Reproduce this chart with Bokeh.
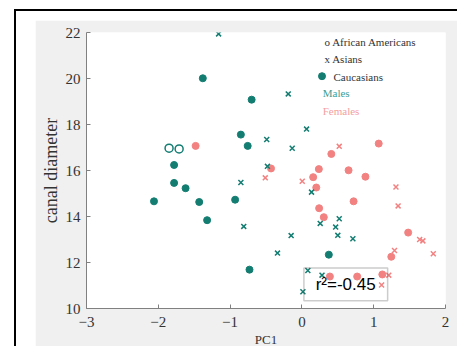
from bokeh.plotting import figure
from bokeh.layouts import column
from bokeh.models import Range1d, FixedTicker, BoxAnnotation, Label, Title
from bokeh.embed import file_html
from bokeh.resources import INLINE

# ---- data ----
male_cauc_x = [-1.38, -0.70, -0.85, -0.755, -1.78, -1.78, -1.62, -2.06, -1.43, -1.32, -0.93, -0.73, 0.375]
male_cauc_y = [20.01, 19.08, 17.56, 17.07, 16.24, 15.46, 15.23, 14.66, 14.63, 13.84, 14.73, 11.69, 12.34]

male_afr_x = [-1.85, -1.71]
male_afr_y = [16.97, 16.94]

male_asian_x = [-1.16, -0.19, 0.065, -0.49, -0.135, -0.48, -0.85, 0.134, -0.81, 0.255,
                0.52, 0.47, 0.50, 0.71, -0.15, -0.34, 0.083, 0.28, 0.014]
male_asian_y = [21.94, 19.33, 17.80, 17.35, 16.97, 16.18, 15.48, 15.06, 13.57, 13.70,
                13.90, 13.54, 13.18, 13.03, 13.17, 12.41, 11.65, 11.45, 10.73]

female_cauc_x = [-1.48, -0.43, 1.07, 0.41, 0.236, 0.65, 0.885, 0.157, 0.20, 0.72,
                 0.24, 0.305, 1.48, 1.245, 0.39, 0.77, 1.12]
female_cauc_y = [17.07, 16.09, 17.17, 16.72, 16.06, 16.01, 15.73, 15.71, 15.26, 14.66,
                 14.36, 13.97, 13.30, 12.25, 11.39, 11.39, 11.48]

female_asian_x = [0.52, -0.51, 0.005, 1.31, 1.34, 1.64, 1.685, 1.29, 1.83, 1.21, 1.11]
female_asian_y = [17.05, 15.68, 15.53, 15.28, 14.46, 13.00, 12.94, 12.52, 12.38, 11.45, 11.02]

x_ticks = [-3, -2, -1, 0, 1, 2]
y_ticks = [10, 12, 14, 16, 18, 20, 22]
r2_text = "r\u00b2=-0.45"

TEAL = "#137d72"
PINK = "#f28282"
SERIF = "Liberation Serif"

p = figure(width=422, height=326, x_range=Range1d(-3, 2), y_range=Range1d(10, 22),
           output_backend="svg", toolbar_location=None,
           min_border_left=51, min_border_right=12, min_border_top=12, min_border_bottom=22)
p.toolbar.logo = None
p.outline_line_color = None
p.grid.visible = False
p.background_fill_color = "white"
p.border_fill_color = "#f0f0f0"

# axes
for ax in (p.xaxis[0], p.yaxis[0]):
    ax.axis_line_color = "#808080"
    ax.major_tick_line_color = "#808080"
    ax.major_tick_in = 4
    ax.major_tick_out = 0
    ax.minor_tick_line_color = None
    ax.major_label_text_font = SERIF
    ax.major_label_text_font_size = "15px"
    ax.major_label_text_color = "#333333"
p.xaxis.ticker = FixedTicker(ticks=x_ticks)
p.yaxis.ticker = FixedTicker(ticks=y_ticks)
p.xaxis.major_label_standoff = 8
p.yaxis.major_label_standoff = 6
p.yaxis.axis_label = "canal diameter"
p.yaxis.axis_label_text_font = SERIF
p.yaxis.axis_label_text_font_style = "normal"
p.yaxis.axis_label_text_color = "#333333"
p.yaxis.axis_label_text_font_size = "18px"
p.yaxis.axis_label_standoff = 2
p.add_layout(Title(text="PC1", align="center", text_font=SERIF, text_font_size="13px",
                   text_font_style="normal", text_color="#333333", standoff=0,
                   offset=18), "below")

# data
p.scatter(female_cauc_x, female_cauc_y, marker="circle", size=7, fill_color=PINK, line_color=PINK)
p.scatter(female_asian_x, female_asian_y, marker="x", size=7, line_color=PINK, line_width=1.5)
p.scatter(male_cauc_x, male_cauc_y, marker="circle", size=7, fill_color=TEAL, line_color=TEAL)
p.scatter(male_asian_x, male_asian_y, marker="x", size=7, line_color=TEAL, line_width=1.5)
p.scatter(male_afr_x, male_afr_y, marker="circle", size=8, fill_color=None, line_color=TEAL, line_width=1.5)

# legend (text annotation)
LX_SYM, LX_TXT = 0.30, 0.44
legend_rows = [("o  African Americans", 21.57, "#333333"),
               ("x  Asians", 20.84, "#333333")]
for txt, yy, col in legend_rows:
    p.add_layout(Label(x=0.315, y=yy, text=txt, text_font=SERIF, text_font_size="11px",
                       text_color=col, text_baseline="middle"))
p.scatter([LX_SYM - 0.02], [20.10], marker="circle_x", size=7, fill_color=TEAL, line_color=TEAL)
p.add_layout(Label(x=LX_TXT, y=20.06, text="Caucasians", text_font=SERIF, text_font_size="11px",
                   text_color="#333333", text_baseline="middle"))
p.add_layout(Label(x=0.29, y=19.38, text="Males", text_font=SERIF, text_font_size="11px",
                   text_color="#3a9e95", text_baseline="middle"))
p.add_layout(Label(x=0.29, y=18.60, text="Females", text_font=SERIF, text_font_size="11px",
                   text_color="#f4a0a0", text_baseline="middle"))

# r^2 box
p.add_layout(BoxAnnotation(left=0.028, right=1.194, bottom=10.34, top=11.76,
                           fill_alpha=0, line_color="#555555", line_width=1.5))
p.add_layout(Label(x=0.61, y=11.03, text=r2_text, text_font="Liberation Sans",
                   text_font_size="17px", text_color="black",
                   text_align="center", text_baseline="middle"))

# white band + black frame around the gray panel (page decoration)
page = column(p, styles={"margin-left": "14px", "margin-top": "9px",
                         "border-left": "2px solid black", "border-top": "2px solid black",
                         "padding-left": "19px", "padding-top": "9px",
                         "background-color": "white"})

open("out.html", "w").write(file_html(page, INLINE))
